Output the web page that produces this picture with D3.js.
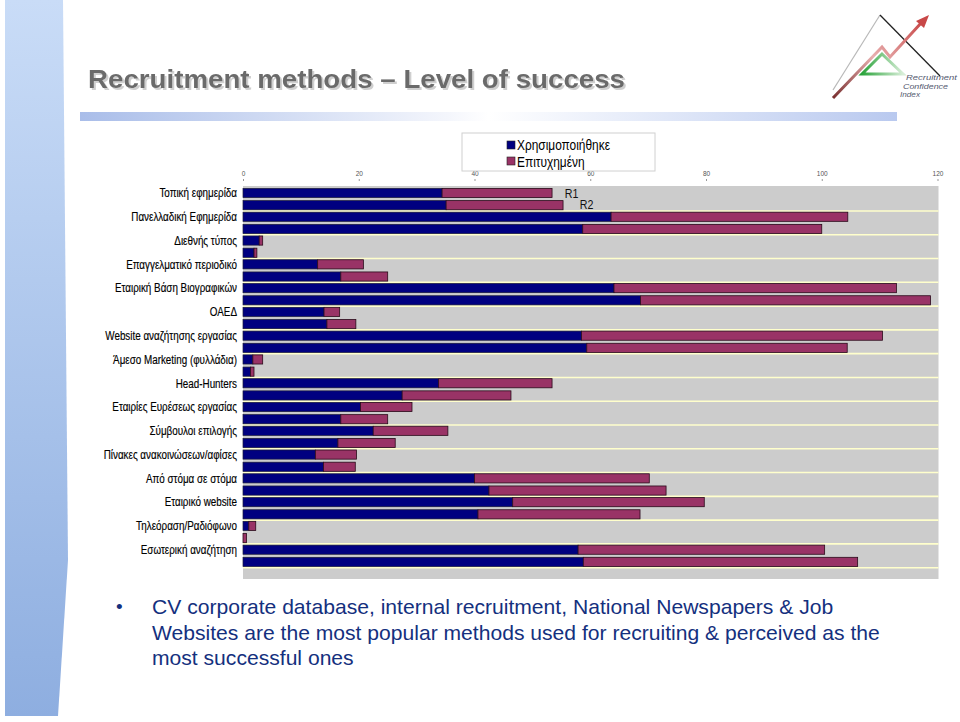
<!DOCTYPE html>
<html><head><meta charset="utf-8">
<script src="https://cdn.jsdelivr.net/npm/d3@7/dist/d3.min.js"></script>
<style>
html,body{margin:0;padding:0;background:#fff;}
svg{display:block;}
</style></head>
<body>
<svg id="c" width="960" height="722"></svg>
<script>
const categories = [
  "Τοπική εφημερίδα",
  "Πανελλαδική Εφημερίδα",
  "Διεθνής τύπος",
  "Επαγγελματικό περιοδικό",
  "Εταιρική Βάση Βιογραφικών",
  "ΟΑΕΔ",
  "Website αναζήτησης εργασίας",
  "Άμεσο Marketing (φυλλάδια)",
  "Head-Hunters",
  "Εταιρίες Ευρέσεως εργασίας",
  "Σύμβουλοι επιλογής",
  "Πίνακες ανακοινώσεων/αφίσες",
  "Από στόμα σε στόμα",
  "Εταιρικό website",
  "Τηλεόραση/Ραδιόφωνο",
  "Εσωτερική αναζήτηση"
];
const rounds = ["R1", "R2"];
const usedR1    = [34.4, 63.6, 2.8, 12.9, 64.1, 14.0, 58.5, 1.7, 33.8, 20.3, 22.5, 12.5, 40.0, 46.6, 1.0, 57.9];
const successR1 = [19.0, 40.9, 0.6,  7.9, 48.8,  2.7, 52.0, 1.7, 19.6,  8.9, 12.9,  7.1, 30.2, 33.1, 1.2, 42.6];
const usedR2    = [35.1, 58.7, 1.9, 16.9, 68.7, 14.5, 59.4, 1.3, 27.5, 16.9, 16.4, 13.9, 42.5, 40.6, 0.0, 58.8];
const successR2 = [20.2, 41.3, 0.5,  8.1, 50.1,  5.0, 45.0, 0.6, 18.8,  8.1,  9.9,  5.5, 30.6, 28.0, 0.6, 47.4];
const tickValues = [0, 20, 40, 60, 80, 100, 120];
const seriesNames = ["Χρησιμοποιήθηκε", "Επιτυχημένη"];
const titleText = "Recruitment methods – Level of success";
const bulletLines = [
  "CV corporate database, internal recruitment, National Newspapers & Job",
  "Websites are the most popular methods used for recruiting & perceived as the",
  "most successful ones"
];
const logoLines = ["Recruitment", "Confidence", "Index"];

const svg = d3.select("#c");
const defs = svg.append("defs");
const ARIAL = "'Liberation Sans',Arial,sans-serif";
// emulate a narrow face by compressing measured text
function narrow(sel, f) {
  sel.each(function(){
    const w = this.getComputedTextLength();
    d3.select(this).attr("textLength", w*f).attr("lengthAdjust","spacingAndGlyphs");
  });
}

// left stripe
const sg = defs.append("linearGradient").attr("id","stripe").attr("x1",0).attr("y1",0).attr("x2",0).attr("y2",1);
sg.append("stop").attr("offset","0").attr("stop-color","#c9dcf7");
sg.append("stop").attr("offset","1").attr("stop-color","#8eaee0");
svg.append("path").attr("d","M5,0 L63,0 L68,560 L58,716 L5,716 Z").attr("fill","url(#stripe)");

// header rule gradient
const hg = defs.append("linearGradient").attr("id","rule").attr("x1",0).attr("y1",0).attr("x2",1).attr("y2",0);
hg.append("stop").attr("offset","0").attr("stop-color","#a9bde9");
hg.append("stop").attr("offset","0.45").attr("stop-color","#f4f6fc");
hg.append("stop").attr("offset","0.5").attr("stop-color","#ffffff");
hg.append("stop").attr("offset","1").attr("stop-color","#b9c9ef");
svg.append("rect").attr("x",80).attr("y",112).attr("width",817).attr("height",9).attr("fill","url(#rule)");

// title with drop shadow filter
const flt = defs.append("filter").attr("id","sh").attr("x","-5%").attr("y","-20%").attr("width","110%").attr("height","150%");
flt.append("feDropShadow").attr("dx",2).attr("dy",2).attr("stdDeviation",0.6).attr("flood-color","#cfcfcf").attr("flood-opacity",1);
svg.append("text").attr("x",88).attr("y",88).text(titleText)
  .attr("font-family",ARIAL).attr("font-weight","bold").attr("font-size",25.5)
  .attr("fill","#6b6b6b").attr("textLength",537).attr("lengthAdjust","spacingAndGlyphs")
  .attr("filter","url(#sh)");

// logo
const logo = svg.append("g");
logo.append("line").attr("x1",833).attr("y1",90).attr("x2",880).attr("y2",15).attr("stroke","#b8b8b8").attr("stroke-width",1.2);
logo.append("line").attr("x1",880).attr("y1",15).attr("x2",940).attr("y2",76).attr("stroke","#222").attr("stroke-width",1.3);
const gg = defs.append("linearGradient").attr("id","grn").attr("x1",0).attr("y1",0).attr("x2",1).attr("y2",0);
gg.append("stop").attr("offset","0").attr("stop-color","#2aa33a");
gg.append("stop").attr("offset","1").attr("stop-color","#d8eed8");
logo.append("path").attr("d","M882,54 L862,74 L903,74 Z").attr("fill","none").attr("stroke","url(#grn)").attr("stroke-width",3);
const rg = defs.append("linearGradient").attr("id","red").attr("x1",0).attr("y1",1).attr("x2",1).attr("y2",0);
rg.append("stop").attr("offset","0").attr("stop-color","#7a3030");
rg.append("stop").attr("offset","0.5").attr("stop-color","#e8b0b0");
rg.append("stop").attr("offset","1").attr("stop-color","#c84848");
logo.append("path").attr("d","M833,98 L882,47 L890,57 L922,22").attr("fill","none").attr("stroke","url(#red)").attr("stroke-width",3);
logo.append("path").attr("d","M929,15 L916,21 L924,28 Z").attr("fill","#c84848");
logo.selectAll("text.lg").data(logoLines).join("text").attr("class","lg")
  .attr("x",(d,i)=>[906,903,900][i]).attr("y",(d,i)=>80+i*8.5).text(d=>d)
  .attr("font-family",ARIAL).attr("font-style","italic").attr("font-size",7.5)
  .attr("fill","#555a70").attr("textLength",(d,i)=>[51,45,20][i]).attr("lengthAdjust","spacingAndGlyphs");

// chart scales
const x = d3.scaleLinear().domain([0,120]).range([243,937.5]);
const y = d3.scaleBand().domain(categories).range([187.2, 187.2 + 16*23.78]);
const yInner = d3.scaleBand().domain(rounds).range([0, y.bandwidth()]).paddingInner(0.25).paddingOuter(0.1);

// plot background
svg.append("rect").attr("x",x(0)).attr("y",186).attr("width",x(120)-x(0)+1).attr("height",393).attr("fill","#cccccc");
// separators
svg.append("g").selectAll("line").data(categories).join("line")
  .attr("x1",x(0)).attr("x2",x(120)+1)
  .attr("y1",d=>y(d)+y.step()).attr("y2",d=>y(d)+y.step())
  .attr("stroke","#ffffcc").attr("stroke-width",1.6);

// axis
const axis = d3.axisTop(x).tickValues(tickValues).tickSize(2).tickPadding(3);
const ax = svg.append("g").attr("transform","translate(0,181)").call(axis);
ax.select(".domain").remove();
ax.selectAll(".tick line").attr("stroke","#999");
ax.selectAll(".tick text").attr("font-family",ARIAL).attr("font-size",6.5).attr("fill","#555");

// bars
const rows = [];
categories.forEach((c,i)=>{
  rows.push({cat:c, round:"R1", used:usedR1[i], success:successR1[i]});
  rows.push({cat:c, round:"R2", used:usedR2[i], success:successR2[i]});
});
const bars = svg.append("g");
bars.selectAll("rect.used").data(rows.filter(d=>d.used>0)).join("rect").attr("class","used")
  .attr("x",x(0)).attr("y",d=>y(d.cat)+yInner(d.round))
  .attr("width",d=>x(d.used)-x(0)).attr("height",yInner.bandwidth())
  .attr("fill","#000080").attr("stroke","#1a1a3a").attr("stroke-width",0.7);
bars.selectAll("rect.succ").data(rows).join("rect").attr("class","succ")
  .attr("x",d=>x(d.used)).attr("y",d=>y(d.cat)+yInner(d.round))
  .attr("width",d=>x(d.used+d.success)-x(d.used)).attr("height",yInner.bandwidth())
  .attr("fill","#993366").attr("stroke","#2a0a1a").attr("stroke-width",0.8);

// category labels
const labs = svg.append("g").selectAll("text").data(categories).join("text")
  .attr("x",237).attr("y",d=>y(d)+yInner("R1")+yInner.bandwidth()/2+4.3)
  .attr("text-anchor","end").text(d=>d)
  .attr("font-family",ARIAL).attr("font-size",12).attr("fill","#000")
  .attr("stroke","#000").attr("stroke-width",0.15);
narrow(labs, 0.82);

// R1/R2 annotations
const rl = svg.append("g");
rl.append("text").attr("x",x(55.6)).attr("y",198).text(rounds[0])
  .attr("font-family",ARIAL).attr("font-size",13).attr("fill","#111");
rl.append("text").attr("x",x(58.2)).attr("y",208.5).text(rounds[1])
  .attr("font-family",ARIAL).attr("font-size",13).attr("fill","#111");
narrow(rl.selectAll("text"), 0.82);

// legend
const lg = svg.append("g");
lg.append("rect").attr("x",462).attr("y",133).attr("width",193).attr("height",38)
  .attr("fill","#fff").attr("stroke","#d0d0d0").attr("stroke-width",1);
const colors = ["#000080","#993366"];
seriesNames.forEach((s,i)=>{
  lg.append("rect").attr("x",507).attr("y",141+i*16).attr("width",8).attr("height",8)
    .attr("fill",colors[i]).attr("stroke","#222").attr("stroke-width",0.6);
  lg.append("text").attr("class","lt").attr("x",517).attr("y",150+i*16.5).text(s)
    .attr("font-family",ARIAL).attr("font-size",14.5).attr("fill","#000");
});
narrow(lg.selectAll("text.lt"), 0.82);

// bullet text
svg.append("text").attr("x",116).attr("y",613).text("•")
  .attr("font-family",ARIAL).attr("font-size",19).attr("fill","#14307e");
svg.append("g").selectAll("text").data(bulletLines).join("text")
  .attr("x",152).attr("y",(d,i)=>614+i*25.5).text(d=>d)
  .attr("font-family",ARIAL).attr("font-size",21.1).attr("fill","#14307e");
</script>
</body></html>
